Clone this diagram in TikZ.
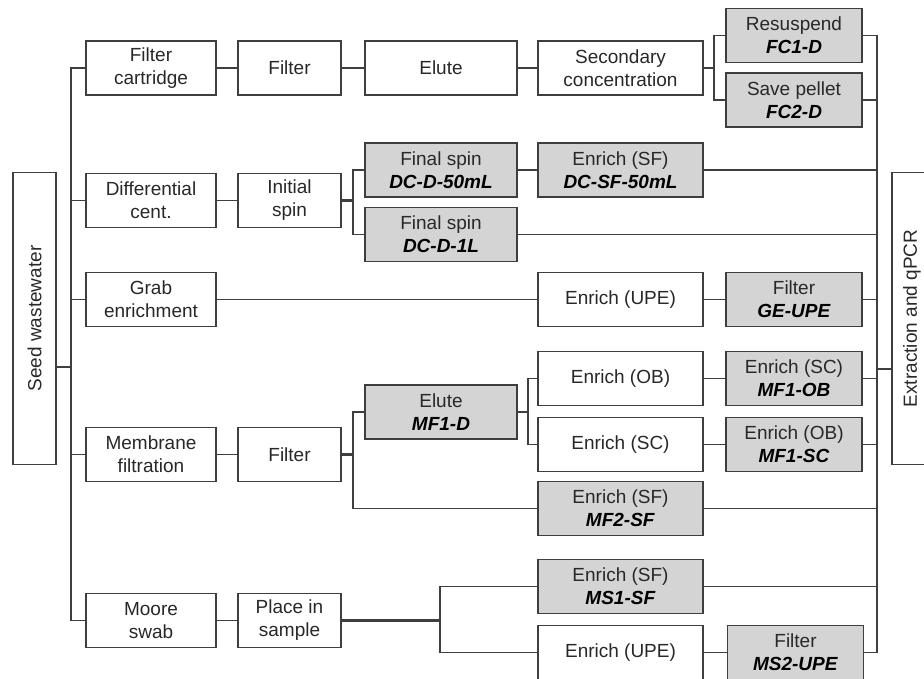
\documentclass[tikz,border=0pt]{standalone}
\usepackage{fontspec}
\setmainfont{Liberation Sans}
\usepackage{graphicx}
\usepackage{xcolor}
\usepackage{tikz}
\usetikzlibrary{calc}
\definecolor{wwedge}{RGB}{62,62,62}
\definecolor{wwdone}{RGB}{212,212,212}
\definecolor{wwink}{RGB}{40,40,40}
\tikzset{
  wwbox/.style={
    draw=wwedge, line width=1.3pt, fill=white,
    align=center, inner sep=1pt, minimum height=54pt,
    font=\fontsize{19}{23}\selectfont, text=wwink
  },
  prep/.style={wwbox},
  done/.style={wwbox, fill=wwdone},
  side/.style={wwbox, minimum width=43pt, minimum height=292pt},
  link/.style={draw=wwedge, line width=1.3pt},
  blink/.style={link, line width=2.4pt}
}
\newcommand{\code}[1]{\textcolor{black}{\textbf{\textit{#1}}}}

\begin{document}
\begin{tikzpicture}[x=1pt, y=-1pt]
  \useasboundingbox (0,0) rectangle (924,679);
  \clip (0,0) rectangle (924,679);
  % sample in, results out
  \node[side] (seed) at (34.5,318.5) {\rotatebox{90}{Seed wastewater}};
  \node[side, minimum width=40pt] (qpcr) at (912,318.5) {\rotatebox{90}{Extraction and qPCR}};
  % methods
  \node[prep, minimum width=130pt] (fc) at (151,68) {Filter\\cartridge};
  \node[prep, minimum width=130pt] (dc) at (151,200.5) {Differential\\cent.};
  \node[prep, minimum width=130pt] (ge) at (151,299.5) {Grab\\enrichment};
  \node[prep, minimum width=130pt] (mf) at (151,454.5) {Membrane\\filtration};
  \node[prep, minimum width=130pt] (ms) at (151,620.5) {Moore\\swab};
  % first step
  \node[prep, minimum width=103pt] (fcF) at (289.5,68) {Filter};
  \node[prep, minimum width=103pt] (dcI) at (289.5,200.5) {Initial\\spin};
  \node[prep, minimum width=103pt] (mfF) at (289.5,454.5) {Filter};
  \node[prep, minimum width=103pt] (msP) at (289.5,620.5) {Place in\\sample};
  % second step
  \node[prep, minimum width=152pt] (fcE) at (441,68) {Elute};
  \node[done, minimum width=152pt] (dc50) at (441,170) {Final spin\\\code{DC-D-50mL}};
  \node[done, minimum width=152pt] (dc1) at (441,234.5) {Final spin\\\code{DC-D-1L}};
  \node[done, minimum width=152pt] (mfE) at (441,412) {Elute\\\code{MF1-D}};
  % third step
  \node[prep, minimum width=165pt] (fcS) at (620.5,68) {Secondary\\concentration};
  \node[done, minimum width=165pt] (dcSF) at (620.5,170) {Enrich (SF)\\\code{DC-SF-50mL}};
  \node[prep, minimum width=165pt] (geU) at (620.5,299.5) {Enrich (UPE)};
  \node[prep, minimum width=165pt] (mfOB) at (620.5,378.5) {Enrich (OB)};
  \node[prep, minimum width=165pt] (mfSC) at (620.5,444.5) {Enrich (SC)};
  \node[done, minimum width=165pt] (mf2) at (620.5,508.5) {Enrich (SF)\\\code{MF2-SF}};
  \node[done, minimum width=165pt] (ms1) at (620.5,586.5) {Enrich (SF)\\\code{MS1-SF}};
  \node[prep, minimum width=165pt] (msU) at (620.5,652.5) {Enrich (UPE)};
  % last step
  \node[done, minimum width=136pt] (fc1) at (794,35.5) {Resuspend\\\code{FC1-D}};
  \node[done, minimum width=136pt] (fc2) at (794,100) {Save pellet\\\code{FC2-D}};
  \node[done, minimum width=136pt] (geF) at (794,299.5) {Filter\\\code{GE-UPE}};
  \node[done, minimum width=136pt] (mf1OB) at (794,378.5) {Enrich (SC)\\\code{MF1-OB}};
  \node[done, minimum width=136pt] (mf1SC) at (794,444.5) {Enrich (OB)\\\code{MF1-SC}};
  \node[done, minimum width=136pt] (ms2) at (795.5,652.5) {Filter\\\code{MS2-UPE}};
  % trunks
  \coordinate (lt) at (71,0);
  \coordinate (rt) at (877,0);
  \coordinate (sj) at (71,367);
  \coordinate (ej) at (877,369);
  \draw[link] (seed.east |- sj) -- (sj);
  \draw[link] (fc.west) -- (fc.west -| lt) -- (ms.west -| lt) -- (ms.west);
  \foreach \b in {dc,ge,mf}
    \draw[link] (\b.west) -- (\b.west -| lt);
  \draw[link] (fc1.east) -- (fc1.east -| rt) -- (ms2.east -| rt) -- (ms2.east);
  \foreach \b in {fc2,dcSF,dc1,geF,mf1OB,mf1SC,mf2,ms1}
    \draw[link] (\b.east) -- (\b.east -| rt);
  \draw[link] (ej) -- (ej -| qpcr.west);
  % steps in a row
  \foreach \p/\q in {fc/fcF,fcF/fcE,fcE/fcS,dc/dcI,dc50/dcSF,ge/geU,geU/geF,
                     mf/mfF,mfOB/mf1OB,mfSC/mf1SC,ms/msP,msU/ms2}
    \draw[link] (\p) -- (\q);
  % splits
  \coordinate (fcb) at (714,68);
  \draw[link] (fcS.east) -- (fcb);
  \draw[link] (fc1.west) -| (fcb) |- (fc2.west);
  \coordinate (dcb) at (353,200.5);
  \draw[blink] (dcI.east) -- (dcb);
  \draw[link] (dc50.west) -| (dcb) |- (dc1.west);
  \coordinate (mfb) at (353,454.5);
  \draw[blink] (mfF.east) -- (mfb);
  \draw[link] (mfE.west) -| (mfb) |- (mf2.west);
  \coordinate (eb) at (528,412);
  \draw[blink] (mfE.east) -- (eb);
  \draw[link] (mfOB.west) -| (eb) |- (mfSC.west);
  \coordinate (msb) at (440,620.5);
  \draw[blink] (msP.east) -- (msb);
  \draw[link] (ms1.west) -| (msb) |- (msU.west);
\end{tikzpicture}
\end{document}
